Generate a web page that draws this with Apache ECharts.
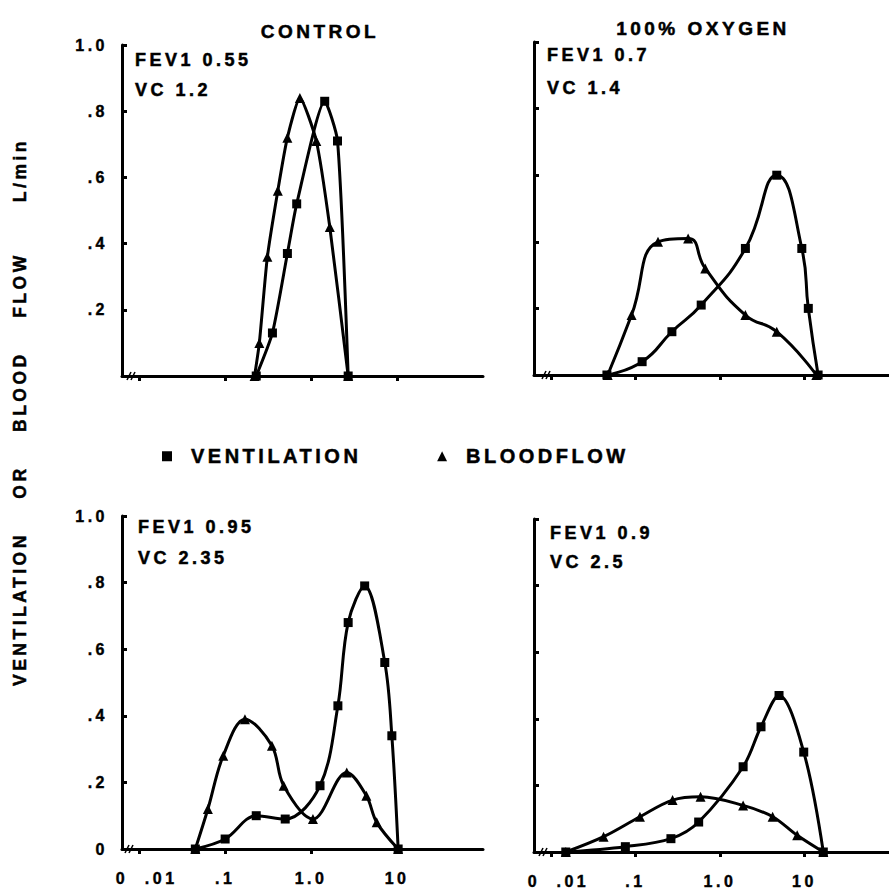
<!DOCTYPE html>
<html><head><meta charset="utf-8">
<script src="https://cdn.jsdelivr.net/npm/echarts@6/dist/echarts.min.js"></script>
<style>
html,body{margin:0;padding:0;background:#fff;}
#c{width:889px;height:891px;letter-spacing:3.5px;}
</style></head><body><div id="c"></div>
<script>
// ---- tick definitions ----
const xMin = Math.pow(10, -2.2);
const xMax = 100;
const xTickValues = [xMin * 1.001, 0.01, 0.1, 1, 10];
const xTickLabels = ['0', '.01', '.1', '1.0', '10'];
const yTickLabels = {0: '0', 0.2: '.2', 0.4: '.4', 0.6: '.6', 0.8: '.8', 1: '1.0'};
const panelTitles = ['CONTROL', '100% OXYGEN'];
const panelNotes = [['FEV1 0.55', 'VC 1.2'], ['FEV1 0.7', 'VC 1.4'], ['FEV1 0.95', 'VC 2.35'], ['FEV1 0.9', 'VC 2.5']];
const legendNames = ['VENTILATION', 'BLOODFLOW'];
const yTitle = 'VENTILATION    OR    BLOOD    FLOW      L/min';

// ---- data: [ventilation-perfusion ratio, L/min] ----
const controlTopVentilation = [[0.23,0],[0.355,0.13],[0.53,0.37],[0.68,0.52],[1.44,0.83],[2.03,0.71],[2.7,0]];
const controlTopBloodflow = [[0.22,0],[0.25,0.10],[0.31,0.36],[0.41,0.56],[0.53,0.72],[0.74,0.84],[1.15,0.71],[1.65,0.45],[2.7,0]];
const oxygenTopVentilation = [[0.046,0],[0.12,0.04],[0.27,0.13],[0.60,0.21],[2.0,0.38],[4.7,0.60],[9.3,0.38],[11.1,0.20],[14.5,0]];
const oxygenTopBloodflow = [[0.047,0],[0.09,0.18],[0.185,0.40],[0.42,0.41],[0.67,0.32],[2.0,0.18],[4.7,0.13],[13.8,0]];
const controlBottomVentilation = [[0.045,0],[0.10,0.03],[0.23,0.10],[0.50,0.09],[1.27,0.19],[2.05,0.43],[2.7,0.68],[4.2,0.79],[7.2,0.56],[8.7,0.34],[10.3,0]];
const controlBottomBloodflow = [[0.045,0],[0.063,0.12],[0.095,0.28],[0.17,0.39],[0.35,0.31],[0.48,0.19],[1.05,0.09],[2.6,0.23],[4.4,0.16],[5.8,0.08],[10.3,0]];
const oxygenBottomVentilation = [[0.015,0],[0.076,0.016],[0.263,0.04],[0.56,0.09],[1.88,0.256],[3.06,0.376],[5.0,0.47],[9.8,0.30],[16.7,0]];
const oxygenBottomBloodflow = [[0.015,0],[0.042,0.046],[0.113,0.106],[0.275,0.156],[0.59,0.166],[1.88,0.14],[4.2,0.106],[8.2,0.05],[16.7,0]];

const panelData = [
  [controlTopVentilation, controlTopBloodflow],
  [oxygenTopVentilation, oxygenTopBloodflow],
  [controlBottomVentilation, controlBottomBloodflow],
  [oxygenBottomVentilation, oxygenBottomBloodflow]
];

const FONT = '"Liberation Sans", Arial, Helvetica, sans-serif';
const grids = [
  {left: 122, top: 45, width: 361, height: 331},
  {left: 534, top: 42, width: 361, height: 333},
  {left: 122, top: 516, width: 361, height: 333},
  {left: 534, top: 519, width: 361, height: 333}
];

function xLabel(v) {
  let best = 0, bd = 1e9;
  xTickValues.forEach((t, i) => {
    const d = Math.abs(Math.log10(t) - Math.log10(v));
    if (d < bd) { bd = d; best = i; }
  });
  return best === 1 ? '{s|' + xTickLabels[best] + '}' : xTickLabels[best];
}

const labelFont = {color: '#000', fontSize: 16, fontWeight: 'bold', fontFamily: FONT, textBorderColor: '#000', textBorderWidth: 0.4};

const xAxes = grids.map((g, i) => ({
  type: 'log', logBase: 10, gridIndex: i, min: xMin, max: xMax,
  axisLine: {show: true, lineStyle: {color: '#000', width: 3}},
  axisTick: {show: true, inside: false, length: 5, customValues: xTickValues.slice(1), lineStyle: {color: '#000', width: 3}},
  axisLabel: Object.assign({
    show: i >= 2, customValues: xTickValues, formatter: xLabel, margin: 21,
    showMinLabel: true,
    rich: {s: Object.assign({padding: [0, 0, 0, 44]}, labelFont)}
  }, labelFont),
  splitLine: {show: false}, minorTick: {show: false}
}));

const yAxes = grids.map((g, i) => ({
  type: 'value', gridIndex: i, min: 0, max: 1, interval: 0.2,
  axisLine: {show: true, lineStyle: {color: '#000', width: 3}},
  axisTick: {show: true, inside: true, length: 5, lineStyle: {color: '#000', width: 3}},
  axisLabel: Object.assign({
    show: i % 2 === 0, showMinLabel: i === 2, margin: 14,
    formatter: v => yTickLabels[Math.round(v * 10) / 10]
  }, labelFont),
  splitLine: {show: false}
}));

const series = [];
panelData.forEach((pair, i) => {
  const sm = i === 0 ? 0.2 : (i === 1 ? 0.5 : 0.35);
  series.push({
    name: legendNames[1], type: 'line', xAxisIndex: i, yAxisIndex: i, data: pair[1],
    smooth: sm, symbol: 'triangle', symbolSize: 10, z: 2,
    lineStyle: {color: '#000', width: 3}, itemStyle: {color: '#000'}
  });
  series.push({
    name: legendNames[0], type: 'line', xAxisIndex: i, yAxisIndex: i, data: pair[0],
    smooth: sm, symbol: 'rect', symbolSize: 9, z: 3,
    lineStyle: {color: '#000', width: 3}, itemStyle: {color: '#000'}
  });
});

const txt = (text, x, y, size, align) => ({
  type: 'text', x: x, y: y, silent: true,
  style: {text: text, fill: '#000', stroke: '#000', lineWidth: 0.5, fontSize: size, fontWeight: 'bold', fontFamily: FONT,
    textAlign: align || 'left', textVerticalAlign: 'middle'}
});
const breakMark = (x, y) => ({
  type: 'group', x: x, y: y, silent: true, children: [
    {type: 'line', shape: {x1: -4, y1: 4, x2: 0, y2: -4}, style: {stroke: '#000', lineWidth: 1.5}},
    {type: 'line', shape: {x1: 0, y1: 4, x2: 4, y2: -4}, style: {stroke: '#000', lineWidth: 1.5}}
  ]
});

const graphics = [
  txt(panelTitles[0], 320, 31, 19, 'center'),
  txt(panelTitles[1], 703, 28, 19, 'center'),
  txt(panelNotes[0][0], 135, 60, 18), txt(panelNotes[0][1], 135, 90, 18),
  txt(panelNotes[1][0], 547, 55, 18), txt(panelNotes[1][1], 547, 88, 18),
  txt(panelNotes[2][0], 138, 527, 18), txt(panelNotes[2][1], 138, 558, 18),
  txt(panelNotes[3][0], 550, 533, 18), txt(panelNotes[3][1], 550, 562, 18),
  Object.assign(txt(yTitle, 0, 0, 17.5, 'center'), {x: 20, y: 412, rotation: Math.PI / 2}),
  breakMark(131, 376), breakMark(546, 375), breakMark(129, 849), breakMark(543, 852)
];

const chart = echarts.init(document.getElementById('c'), null, {renderer: 'svg'});
chart.setOption({
  animation: false,
  backgroundColor: '#fff',
  grid: grids,
  xAxis: xAxes,
  yAxis: yAxes,
  legend: {
    data: [{name: legendNames[0], icon: 'rect'}, {name: legendNames[1], icon: 'triangle'}],
    left: 157, top: 441, itemWidth: 10, itemHeight: 10, itemGap: 114, selectedMode: false,
    formatter: n => '{a|' + n + '}',
    textStyle: {color: '#000', fontSize: 20, fontWeight: 'bold', fontFamily: FONT,
      rich: {a: {padding: [0, 0, 0, 14], color: '#000', fontSize: 20, fontWeight: 'bold', fontFamily: FONT, textBorderColor: '#000', textBorderWidth: 0.5}}}
  },
  series: series,
  graphic: graphics
});
</script></body></html>
